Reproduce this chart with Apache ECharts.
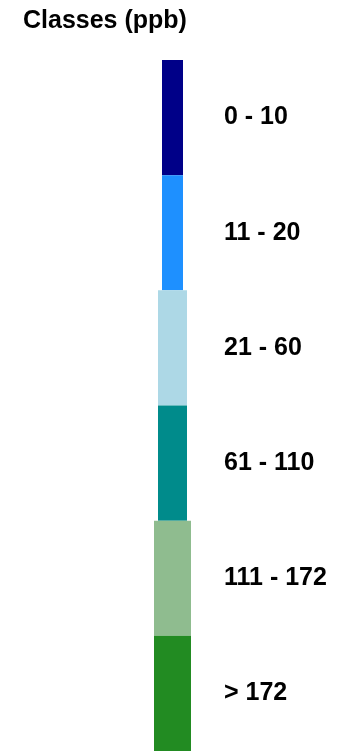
<!DOCTYPE html>
<html>
<head>
<meta charset="utf-8">
<script src="https://cdn.jsdelivr.net/npm/echarts@6/dist/echarts.min.js"></script>
<style>
  html, body { margin: 0; padding: 0; background: #fff; }
  #main { width: 343px; height: 751px; }
</style>
</head>
<body>
<div id="main"></div>
<script>
"use strict";
// legend classes, top to bottom
let classLabels = ['0 - 10', '11 - 20', '21 - 60', '61 - 110', '111 - 172', '> 172'];
let classColors = ['#000088', '#1E90FF', '#ADD8E6', '#008B8B', '#8FBC8F', '#228B22'];
// swatch widths in px (style only)
let swatchWidths = [21, 21, 29, 29, 37, 37];

let font = "'Liberation Sans', Arial, sans-serif";
let myChart = echarts.init(document.getElementById('main'));

function drawLegend() {
    let option = {
        animation: false,
        title: {
            text: 'Classes (ppb)',
            left: 23,
            top: 9,
            padding: 0,
            textStyle: { fontFamily: font, fontSize: 25, fontWeight: 'bold', color: '#000' }
        },
        grid: { left: 130, right: 128, top: 60, bottom: 0 },
        xAxis: { type: 'value', min: -1, max: 1, show: false },
        yAxis: {
            type: 'category',
            data: classLabels,
            inverse: true,
            position: 'right',
            axisLine: { show: false },
            axisTick: { show: false },
            splitLine: { show: false },
            axisLabel: {
                margin: 9,
                padding: [0, 0, 4, 0],
                fontFamily: font,
                fontSize: 25,
                fontWeight: 'bold',
                color: '#000'
            }
        },
        series: [{
            type: 'custom',
            data: classLabels.map(function (name, i) {
                return { value: [0, i], itemStyle: { color: classColors[i] } };
            }),
            encode: { x: 0, y: 1 },
            renderItem: function (params, api) {
                let c = api.coord([0, api.value(1)]);
                let h = api.size([0, 1])[1];
                let w = swatchWidths[params.dataIndex];
                return {
                    type: 'rect',
                    shape: { x: c[0] - w / 2, y: c[1] - h / 2, width: w, height: h },
                    style: { fill: api.visual('color') }
                };
            }
        }]
    };
    myChart.setOption(option);
}
drawLegend();
</script>
</body>
</html>
